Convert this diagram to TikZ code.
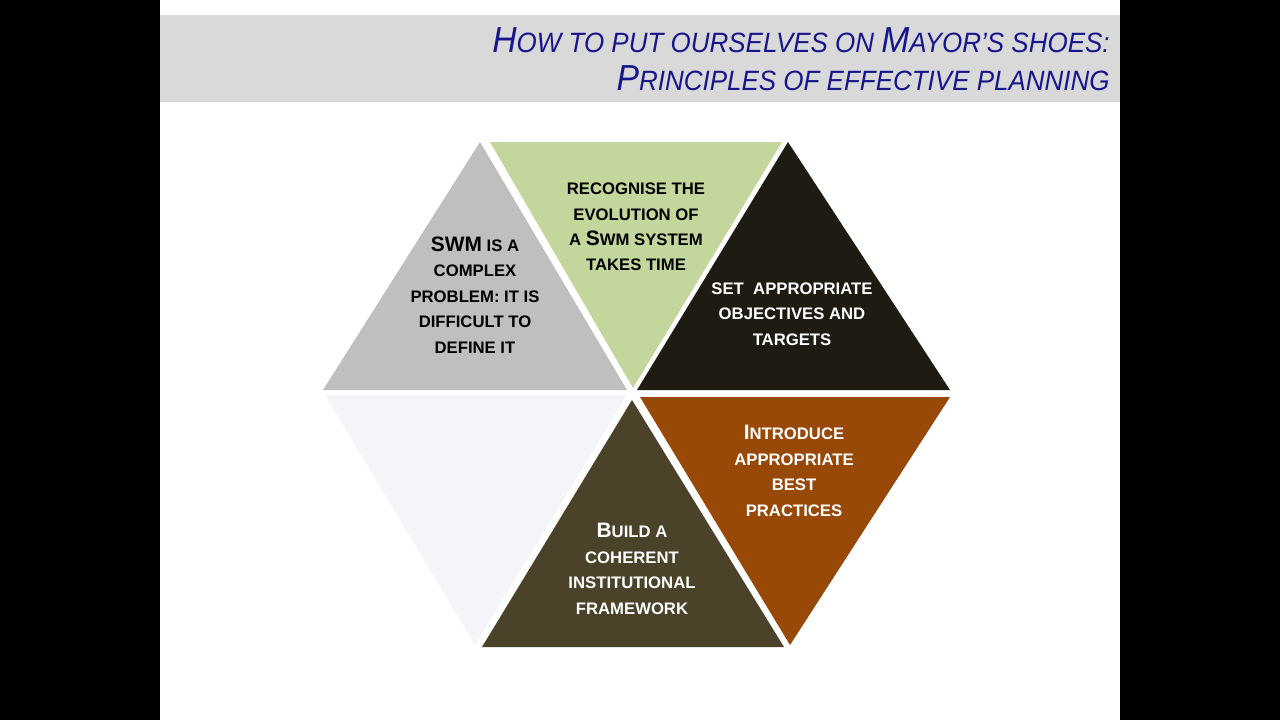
\documentclass[tikz,border=0pt]{standalone}
\usepackage{fontspec}
\setmainfont{Liberation Sans}
\newfontfamily\titlefont[FakeStretch=0.93]{Liberation Sans}
\usepackage{tikz}
\usetikzlibrary{positioning}
\usepackage{xcolor}

\definecolor{TitleBlue}{RGB}{22,22,140}
\definecolor{BandGray}{RGB}{217,217,217}
\definecolor{TriGray}{RGB}{191,191,191}
\definecolor{TriGreen}{RGB}{195,214,155}
\definecolor{TriBlack}{RGB}{30,27,19}
\definecolor{TriFaded}{RGB}{243,245,248}
\definecolor{TriOlive}{RGB}{74,66,41}
\definecolor{TriBrown}{RGB}{152,72,7}

% larger capital inside the small-caps lines
\newcommand{\capl}[1]{{\fontsize{11.9}{14.5}\selectfont #1}}
\newcommand{\titlecap}[1]{{\fontsize{20.6}{21.5}\selectfont #1}}

\tikzset{
  tritext/.style={align=center,font=\bfseries\fontsize{9.5}{14.5}\selectfont,inner sep=0pt},
  darktext/.style={tritext,text=black},
  lighttext/.style={tritext,text=white}
}

\begin{document}
\begin{tikzpicture}[x=0.02cm,y=-0.02cm]
  \useasboundingbox (0,0) rectangle (1280,720);
  % slide and black bars
  \fill[black] (0,0) rectangle (1280,720);
  \fill[white] (160,0) rectangle (1120,720);
  \fill[BandGray] (160,15) rectangle (1120,102);
  \node[anchor=east,align=right,text=TitleBlue,inner sep=0pt,
        font=\titlefont\itshape\fontsize{15.9}{21.5}\selectfont] (title) at (1110,59)
    {\titlecap{H}OW TO PUT OURSELVES ON \titlecap{M}AYOR’S SHOES:\\
     \titlecap{P}RINCIPLES OF EFFECTIVE PLANNING};
  % upper row of triangles
  \fill[TriGray] (480,142) -- (323,390) -- (627,390) -- cycle;
  \fill[TriGreen] (490,142) -- (782,142) -- (633,388) -- cycle;
  \fill[TriBlack] (788,142) -- (637,390) -- (950,390) -- cycle;
  % lower row of triangles
  \fill[TriFaded] (325,395) -- (627,395) -- (475,645) -- cycle;
  \fill[TriOlive] (632,400) -- (482,647) -- (784,647) -- cycle;
  \fill[TriBrown] (640,397) -- (950,397) -- (790,645) -- cycle;
  % labels
  \node[darktext] (complex) at (475,295)
    {\capl{SWM} IS A\\COMPLEX\\PROBLEM: IT IS\\DIFFICULT TO\\DEFINE IT};
  \node[darktext] (evolution) at (636,227)
    {RECOGNISE THE\\EVOLUTION OF\\A \capl{S}WM SYSTEM\\TAKES TIME};
  \node[lighttext] (targets) at (792,314)
    {SET\ \ APPROPRIATE\\OBJECTIVES AND\\TARGETS};
  \node[lighttext] (practices) at (794,471)
    {\capl{I}NTRODUCE\\APPROPRIATE\\BEST\\PRACTICES};
  \node[lighttext] (framework) at (632,569)
    {\capl{B}UILD A\\COHERENT\\INSTITUTIONAL\\FRAMEWORK};
\end{tikzpicture}
\end{document}
